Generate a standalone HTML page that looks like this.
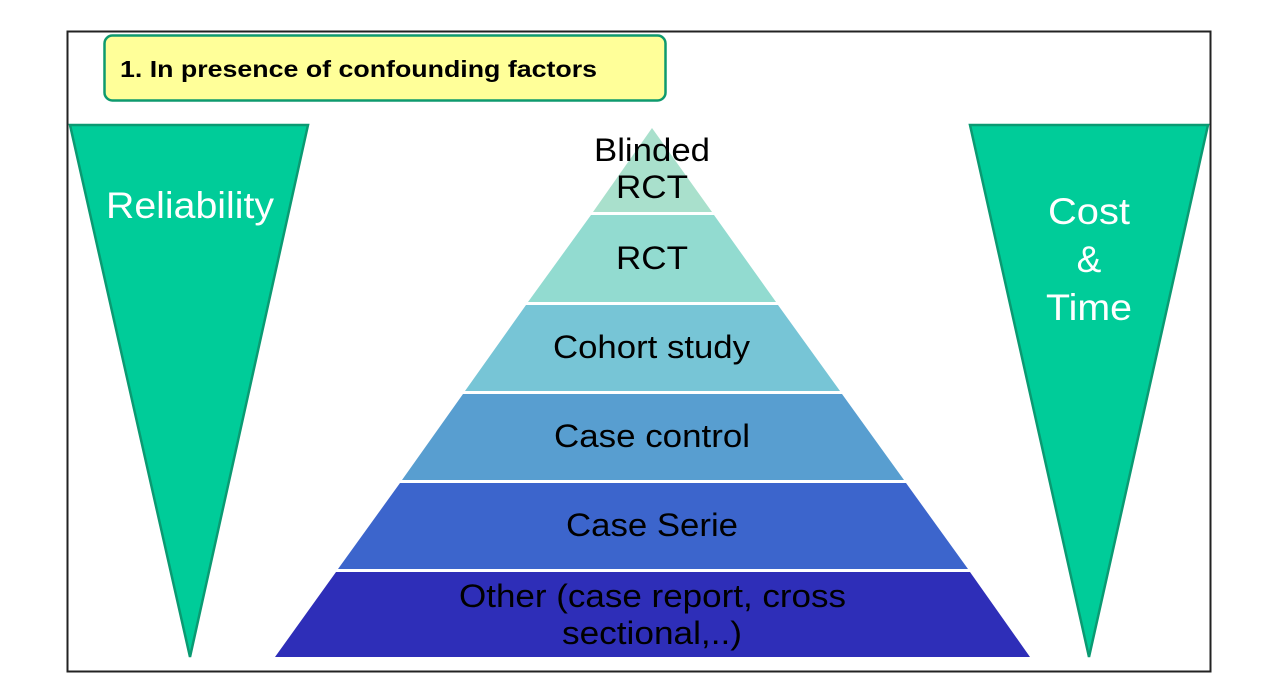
<!DOCTYPE html>
<html><head><style>body{margin:0;background:#fff}svg{display:block}</style></head><body>
<svg width="1280" height="698" xmlns="http://www.w3.org/2000/svg" font-family="Liberation Sans, Arial, sans-serif">
<rect x="67.5" y="31.5" width="1143" height="640" fill="#fff" stroke="#222" stroke-width="2"/>
<rect x="104.5" y="35.5" width="561" height="65" rx="8" fill="#ffff99" stroke="#0e9a6e" stroke-width="2.5"/>
<text x="120" y="77" font-size="23" font-weight="bold" fill="#000" textLength="477" lengthAdjust="spacingAndGlyphs">1. In presence of confounding factors</text>
<polygon points="70,125 308,125 190,657" fill="#00cc99" stroke="#0a9a72" stroke-width="2.5"/>
<text x="106" y="218" font-size="37" fill="#fff" textLength="168" lengthAdjust="spacingAndGlyphs">Reliability</text>
<polygon points="970,125 1208,125 1089,657" fill="#00cc99" stroke="#0a9a72" stroke-width="2.5"/>
<text x="1048" y="224" font-size="37" fill="#fff" textLength="82" lengthAdjust="spacingAndGlyphs">Cost</text>
<text x="1089" y="272" font-size="37" fill="#fff" text-anchor="middle">&amp;</text>
<text x="1046" y="320" font-size="37" fill="#fff" textLength="86" lengthAdjust="spacingAndGlyphs">Time</text>
<polygon points="652,128 712,212 593,212" fill="#a9e0cc"/>
<polygon points="591,215 714,215 776,302 528,302" fill="#92dbd0"/>
<polygon points="526,305 778,305 840,391 465,391" fill="#77c5d6"/>
<polygon points="463,394 842,394 904,480 402,480" fill="#589ed0"/>
<polygon points="400,483 906,483 968,569 338,569" fill="#3c65cc"/>
<polygon points="336,572 970,572 1030,657 275,657" fill="#2e2eb8"/>
<g font-size="32" fill="#000">
<text x="594" y="161" textLength="116" lengthAdjust="spacingAndGlyphs">Blinded</text>
<text x="616" y="198" textLength="72" lengthAdjust="spacingAndGlyphs">RCT</text>
<text x="616" y="269" textLength="72" lengthAdjust="spacingAndGlyphs">RCT</text>
<text x="553" y="358" textLength="197" lengthAdjust="spacingAndGlyphs">Cohort study</text>
<text x="554" y="447" textLength="196" lengthAdjust="spacingAndGlyphs">Case control</text>
<text x="566" y="536" textLength="172" lengthAdjust="spacingAndGlyphs">Case Serie</text>
<text x="459" y="607" textLength="387" lengthAdjust="spacingAndGlyphs">Other (case report, cross</text>
<text x="562" y="644" textLength="180" lengthAdjust="spacingAndGlyphs">sectional,..)</text>
</g>
</svg>
</body></html>
